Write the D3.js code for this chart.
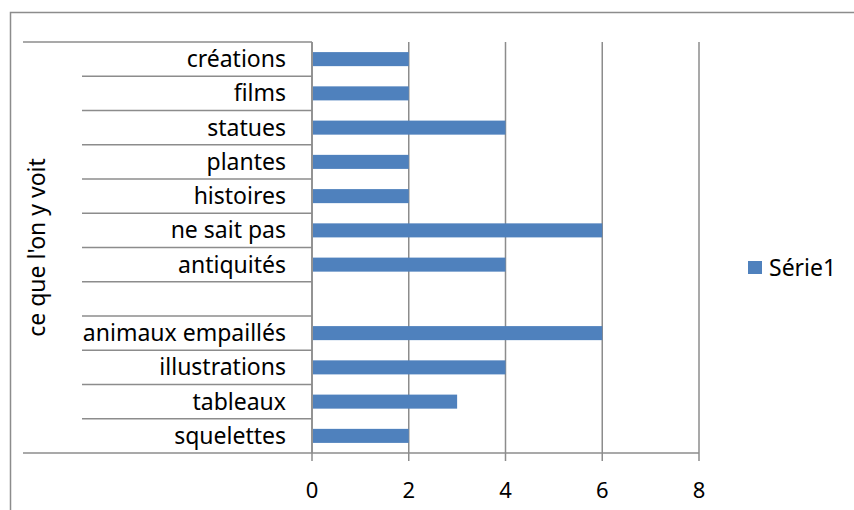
<!DOCTYPE html>
<html>
<head>
<meta charset="utf-8">
<script src="https://cdn.jsdelivr.net/npm/d3@7"></script>
<style>
  body { margin: 0; background: #fff; }
  text { font-family: "Noto Sans", "Open Sans", sans-serif; fill: #000; }
</style>
</head>
<body>
<div id="chart"></div>
<script>
// data, top to bottom as drawn
var categories = ["créations", "films", "statues", "plantes", "histoires", "ne sait pas",
  "antiquités", "", "animaux empaillés", "illustrations", "tableaux", "squelettes"];
var values = [2, 2, 4, 2, 2, 6, 4, 0, 6, 4, 3, 2];
var xTicks = [0, 2, 4, 6, 8];
var seriesName = "Série1";
var groupLabel = "ce que l'on y voit";

var svgWidth = 854;
var svgHeight = 510;

var plot = { left: 312, right: 699, top: 42, bottom: 453 };

var svg = d3.select("#chart")
  .append("svg")
  .attr("width", svgWidth)
  .attr("height", svgHeight);

// outer frame (cut at the right and bottom)
svg.append("path")
  .attr("d", "M10.5," + svgHeight + "V12.5H" + svgWidth)
  .attr("fill", "none")
  .attr("stroke", "#8c8c8c")
  .attr("stroke-width", 1.5);

var x = d3.scaleLinear()
  .domain([0, 8])
  .range([plot.left, plot.right]);

var y = d3.scaleBand()
  .domain(d3.range(categories.length))
  .range([plot.top, plot.bottom]);

var barH = y.bandwidth() * 0.41;

// vertical gridlines + tick marks
svg.append("g")
  .selectAll("line")
  .data(xTicks)
  .enter()
  .append("line")
  .attr("x1", d => x(d))
  .attr("x2", d => x(d))
  .attr("y1", plot.top)
  .attr("y2", plot.bottom + 8)
  .attr("stroke", "#8c8c8c")
  .attr("stroke-width", 1.5);

// bottom axis line
svg.append("line")
  .attr("x1", plot.left)
  .attr("x2", plot.right)
  .attr("y1", plot.bottom)
  .attr("y2", plot.bottom)
  .attr("stroke", "#8c8c8c")
  .attr("stroke-width", 1.5);

// tick labels
svg.append("g")
  .selectAll("text")
  .data(xTicks)
  .enter()
  .append("text")
  .attr("x", d => x(d))
  .attr("y", 490)
  .attr("dy", "0.35em")
  .attr("text-anchor", "middle")
  .attr("font-size", "22px")
  .text(d => d);

// category separators (multi-level axis)
var bounds = d3.range(categories.length + 1).map(i => plot.top + i * y.step());
svg.append("g")
  .selectAll("line")
  .data(bounds)
  .enter()
  .append("line")
  .attr("x1", (d, i) => (i === 0 || i === categories.length) ? 23 : 82)
  .attr("x2", plot.left)
  .attr("y1", d => d)
  .attr("y2", d => d)
  .attr("stroke", "#8c8c8c")
  .attr("stroke-width", 1.5);

// vertical category axis line
svg.append("line")
  .attr("x1", plot.left)
  .attr("x2", plot.left)
  .attr("y1", plot.top)
  .attr("y2", plot.bottom)
  .attr("stroke", "#8c8c8c")
  .attr("stroke-width", 1.5);

// category labels
svg.append("g")
  .selectAll("text")
  .data(categories)
  .enter()
  .append("text")
  .attr("x", 286)
  .attr("y", (d, i) => y(i) + y.bandwidth() / 2)
  .attr("dy", "0.35em")
  .attr("text-anchor", "end")
  .attr("font-size", "23px")
  .text(d => d);

// outer group label
svg.append("text")
  .attr("transform", "translate(45," + ((plot.top + plot.bottom) / 2) + ") rotate(-90)")
  .attr("text-anchor", "middle")
  .attr("font-size", "23px")
  .text(groupLabel);

// bars
svg.append("g")
  .selectAll("rect")
  .data(values)
  .enter()
  .append("rect")
  .attr("x", x(0) + 1)
  .attr("y", (d, i) => y(i) + (y.bandwidth() - barH) / 2)
  .attr("width", d => Math.max(0, x(d) - x(0) - 1))
  .attr("height", barH)
  .attr("fill", "#4f81bd");

// legend
var legend = svg.append("g")
  .attr("transform", "translate(748,261)");
legend.append("rect")
  .attr("width", 14)
  .attr("height", 13)
  .attr("fill", "#4f81bd");
legend.append("text")
  .attr("x", 21)
  .attr("y", 7)
  .attr("dy", "0.35em")
  .attr("font-size", "23px")
  .text(seriesName);
</script>
</body>
</html>
